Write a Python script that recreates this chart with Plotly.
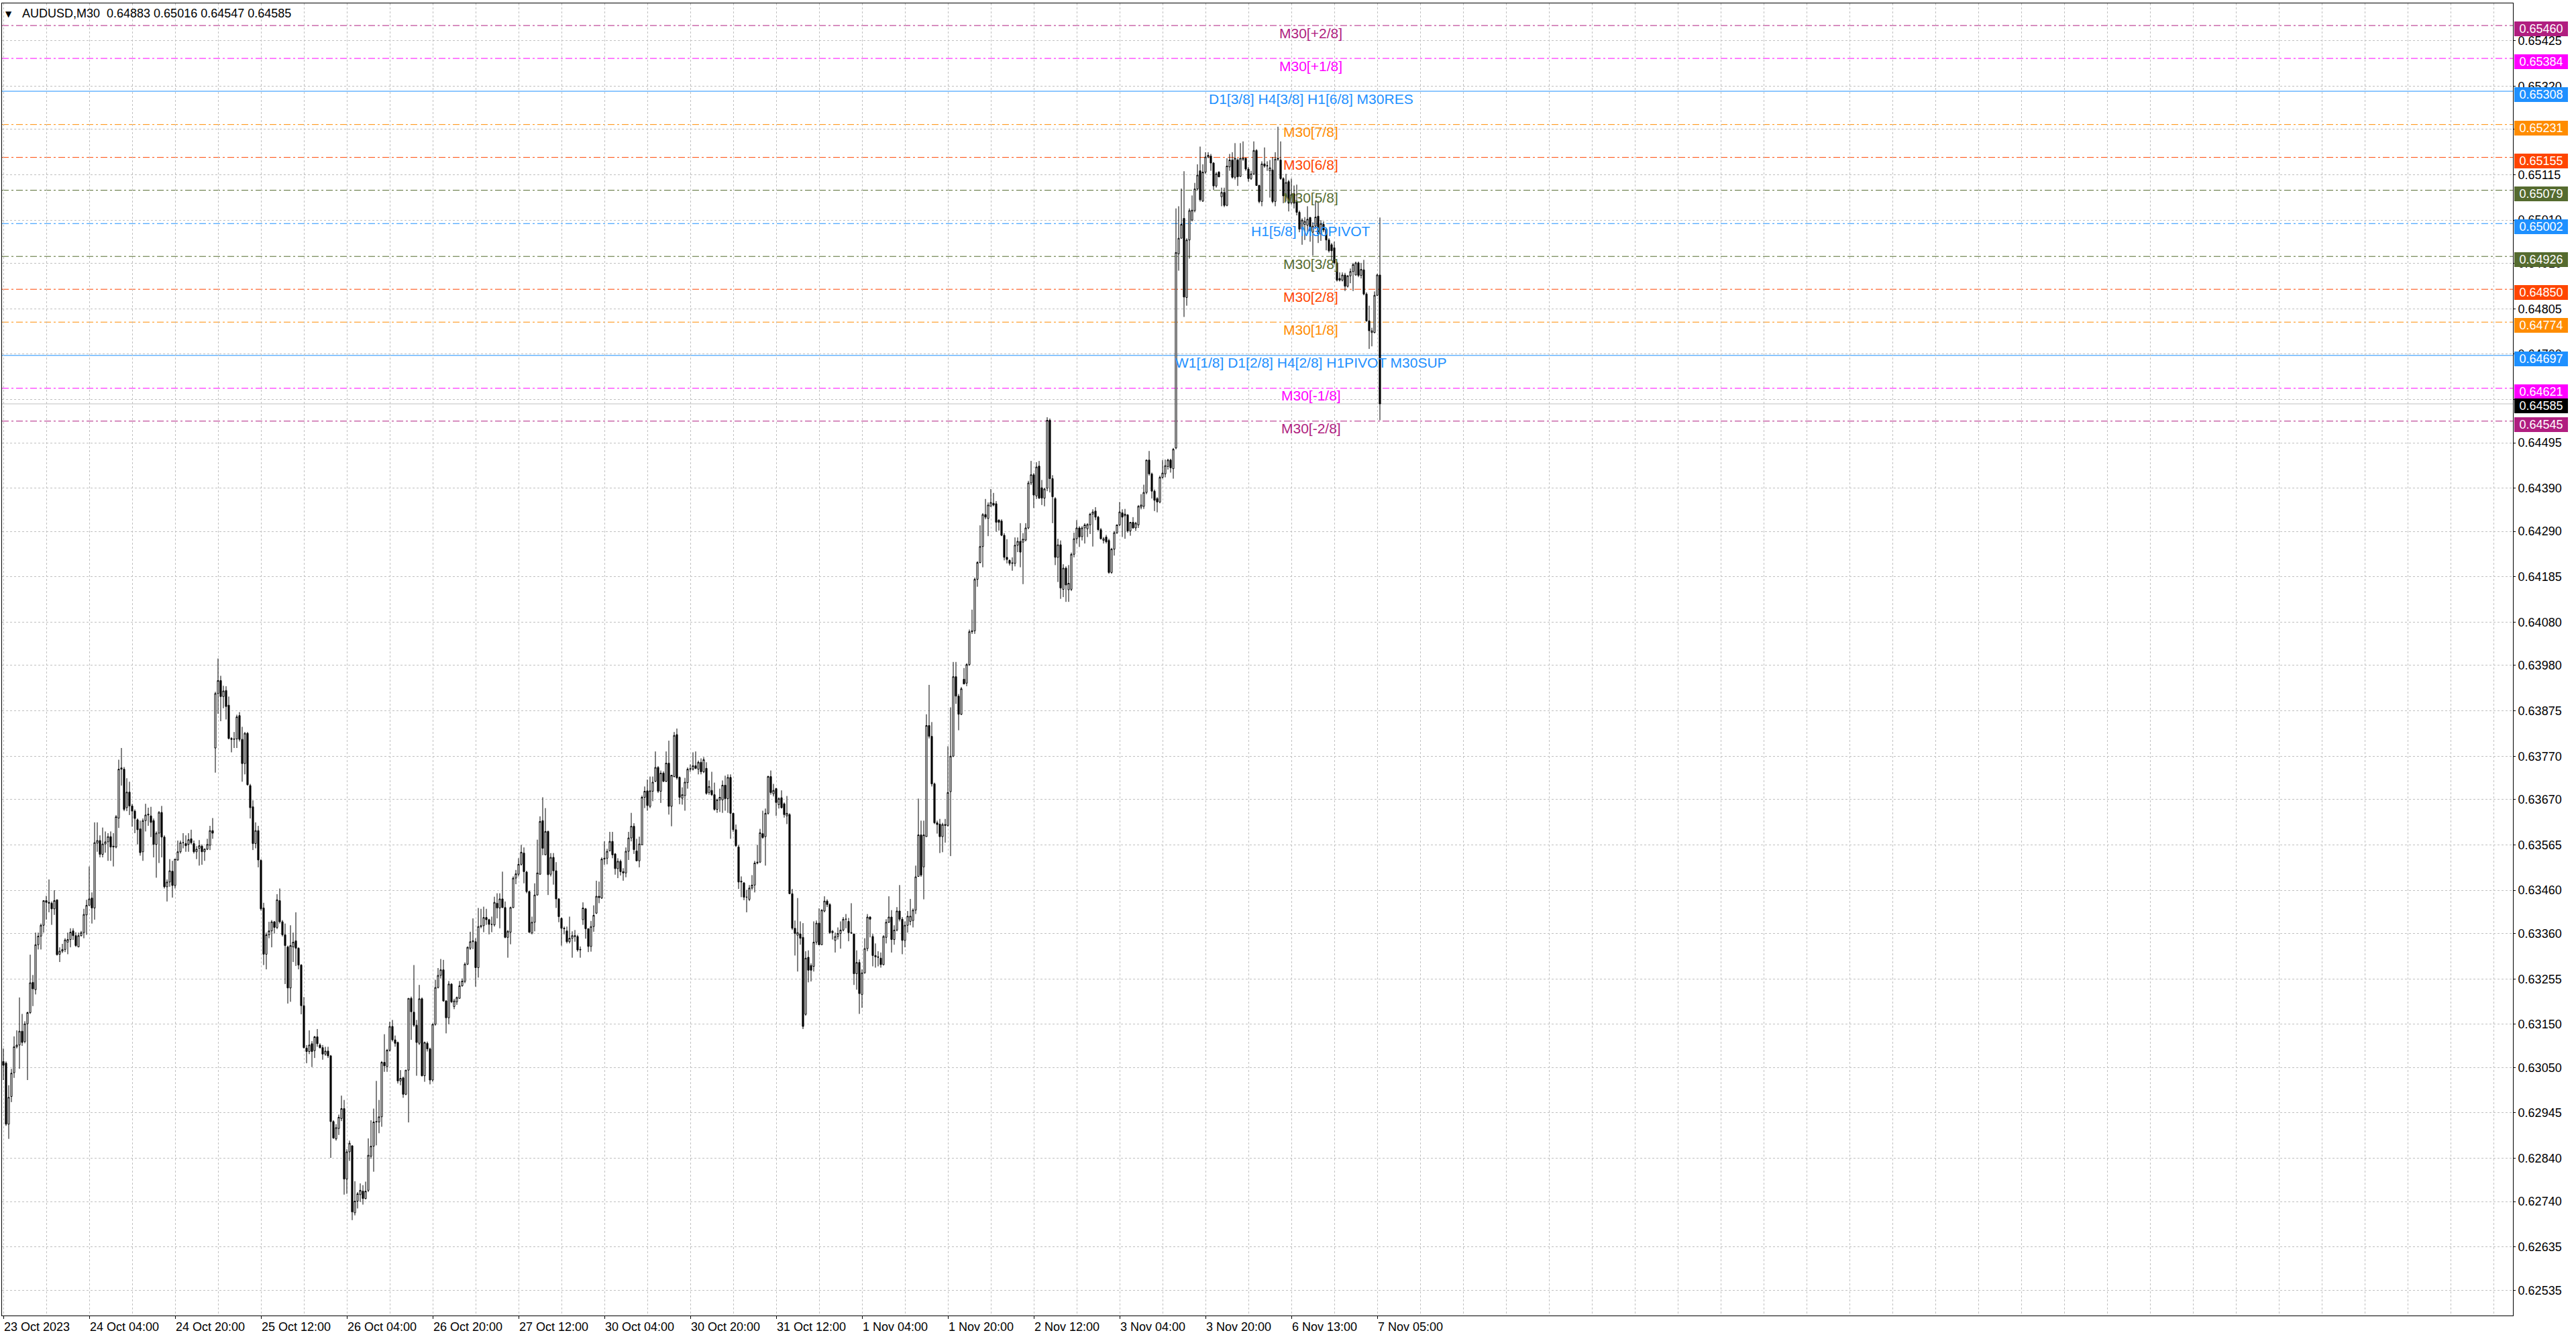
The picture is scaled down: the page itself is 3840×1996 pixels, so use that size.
import plotly.graph_objects as go

# ---------------- data (prices in points, 1 point = 0.00001) ----------------
open_pts = [
63064,63060,62919,62983,63038,63098,63102,63134,63110,63151,
63177,63247,63230,63334,63354,63379,63436,63432,63430,63417,
63438,63312,63319,63323,63340,63346,63366,63355,63329,63355,
63362,63403,63425,63442,63419,63569,63575,63543,63567,63572,
63584,63560,63560,63627,63740,63740,63651,63687,63655,63643,
63623,63602,63549,63621,63634,63632,63621,63566,63592,63640,
63583,63468,63479,63504,63471,63530,63549,63570,63568,63566,
63579,63568,63549,63557,63562,63549,63555,63564,63598,63789,
63915,63945,63908,63922,63888,63811,63809,63810,63864,63809,
63753,63823,63702,63653,63568,63598,63529,63419,63312,63357,
63366,63387,63374,63436,63387,63357,63329,63234,63329,63343,
63326,63287,63193,63095,63087,63105,63089,63121,63102,63096,
63081,63088,63077,62925,62885,62909,62932,62955,62792,62855,
62869,62714,62741,62756,62764,62747,62766,62845,62868,62924,
62924,62936,63062,63052,63090,63145,63114,63108,63019,63026,
62988,63044,63210,63178,63148,63106,63209,63031,63106,63093,
63021,63150,63235,63263,63276,63204,63165,63243,63191,63202,
63210,63239,63249,63289,63326,63341,63341,63281,63376,63378,
63397,63392,63381,63380,63430,63419,63440,63420,63351,63363,
63420,63488,63497,63520,63546,63502,63457,63361,63386,63449,
63497,63621,63542,63596,63497,63536,63505,63440,63395,63372,
63366,63341,63349,63355,63353,63322,63392,63417,63371,63330,
63376,63407,63446,63442,63532,63534,63551,63573,63544,63510,
63527,63503,63500,63550,63581,63608,63551,63528,63565,63675,
63690,63654,63689,63712,63744,63689,63731,63712,63754,63654,
63723,63820,63721,63673,63679,63709,63740,63740,63748,63740,
63756,63734,63742,63686,63691,63681,63647,63669,63669,63703,
63672,63721,63638,63600,63560,63479,63477,63444,63439,63465,
63472,63523,63525,63591,63584,63638,63723,63683,63695,63658,
63674,63660,63632,63635,63452,63372,63356,63359,63351,63173,
63305,63286,63284,63340,63384,63334,63412,63435,63427,63362,
63344,63353,63360,63368,63393,63388,63362,63359,63267,63293,
63219,63269,63325,63398,63353,63309,63306,63303,63288,63351,
63386,63398,63346,63368,63412,63393,63344,63379,63388,63390,
63414,63492,63588,63514,63584,63841,63816,63706,63616,63613,
63584,63612,63610,63688,63770,63954,63909,63867,63948,63939,
63982,64058,64060,64179,64218,64255,64329,64320,64348,64355,
64354,64316,64314,64281,64230,64223,64216,64216,64258,64267,
64265,64270,64298,64402,64421,64372,64441,64391,64367,64390,
64547,64412,64366,64230,64259,64156,64205,64155,64156,64237,
64273,64298,64278,64298,64296,64305,64330,64337,64323,64294,
64269,64277,64269,64195,64249,64287,64305,64333,64326,64328,
64291,64311,64298,64305,64346,64348,64380,64455,64423,64383,
64366,64358,64415,64423,64440,64455,64435,64483,64932,64968,
65014,64831,64964,65010,65032,65082,65124,65054,65121,65156,
65158,65142,65089,65121,65064,65074,65044,65133,65149,65109,
65149,65111,65153,65153,65128,65106,65117,65171,65090,65053,
65140,65135,65124,65126,65053,65153,65149,65106,65066,65099,
65050,65071,65053,65028,64989,65000,64998,65016,64982,64996,
65019,64978,65000,64989,64964,64953,64946,64911,64875,64871,
64883,64857,64881,64891,64883,64911,64882,64895,64839,64777,
64750,64750,64836,64883]

high_pts = [
63094,63064,63009,63047,63122,63136,63212,63174,63157,63179,
63311,63264,63362,63362,63383,63436,63447,63485,63434,63460,
63438,63328,63336,63349,63362,63372,63372,63363,63362,63366,
63417,63438,63515,63455,63617,63617,63587,63605,63596,63592,
63596,63592,63634,63762,63789,63745,63719,63711,63660,63647,
63626,63621,63626,63660,63651,63653,63626,63596,63643,63655,
63587,63485,63532,63528,63532,63575,63575,63592,63587,63592,
63600,63575,63562,63576,63566,63557,63579,63609,63627,63919,
63996,63956,63933,63932,63908,63814,63826,63866,63872,63838,
63826,63826,63706,63668,63617,63609,63532,63431,63362,63387,
63391,63389,63451,63464,63391,63383,63332,63379,63362,63409,
63328,63289,63213,63102,63136,63111,63123,63139,63106,63102,
63098,63098,63079,62928,62919,62941,62985,62975,62861,62881,
62870,62787,62762,62782,62778,62786,62886,62928,62955,63019,
62975,63065,63127,63093,63156,63160,63124,63110,63044,63029,
63044,63210,63214,63287,63160,63241,63212,63110,63110,63096,
63152,63253,63280,63301,63299,63206,63250,63245,63209,63214,
63250,63256,63293,63330,63364,63395,63349,63419,63417,63422,
63417,63394,63399,63445,63453,63453,63503,63434,63368,63422,
63492,63507,63534,63565,63559,63505,63459,63399,63476,63577,
63631,63675,63650,63598,63546,63546,63525,63442,63397,63376,
63376,63399,63365,63368,63357,63330,63432,63419,63372,63389,
63425,63482,63480,63536,63573,63556,63595,63595,63546,63534,
63531,63511,63559,63595,63639,63615,63579,63584,63679,63700,
63716,63723,63723,63781,63747,63737,63735,63781,63806,63727,
63826,63834,63723,63698,63720,63744,63751,63779,63781,63760,
63765,63768,63756,63714,63734,63709,63672,63695,63714,63725,
63728,63728,63639,63612,63565,63492,63479,63461,63472,63495,
63528,63565,63602,63644,63649,63725,63737,63706,63697,63675,
63691,63663,63678,63638,63463,63390,63442,63388,63384,63319,
63321,63291,63388,63390,63418,63416,63446,63439,63430,63368,
63362,63374,63388,63398,63405,63396,63430,63359,63321,63300,
63277,63349,63405,63400,63359,63337,63319,63316,63356,63393,
63446,63414,63379,63421,63472,63398,63388,63412,63440,63418,
63517,63672,63621,63621,63867,63935,63849,63709,63621,63625,
63616,63625,63793,63883,63988,63988,63914,63930,63974,63985,
64063,64109,64183,64221,64304,64332,64365,64357,64388,64379,
64360,64318,64318,64286,64272,64225,64230,64276,64276,64309,
64286,64309,64407,64453,64425,64450,64453,64409,64391,64554,
64551,64420,64369,64273,64269,64214,64209,64212,64241,64287,
64316,64302,64302,64309,64309,64333,64341,64346,64326,64298,
64277,64282,64273,64252,64291,64306,64358,64341,64342,64330,
64312,64323,64312,64351,64376,64398,64456,64476,64426,64387,
64369,64419,64455,64456,64458,64458,64483,65037,65042,65083,
65123,64968,65037,65067,65096,65139,65180,65139,65167,65167,
65163,65144,65121,65123,65085,65085,65153,65163,65167,65188,
65153,65188,65192,65154,65133,65124,65192,65174,65092,65146,
65178,65146,65149,65156,65167,65226,65192,65109,65117,65103,
65106,65090,65092,65032,65014,65017,65042,65017,65005,65054,
65053,65010,65007,64992,64968,64957,64960,64914,64889,64889,
64888,64883,64898,64911,64914,64914,64911,64918,64843,64812,
64761,64845,64886,65016]

low_pts = [
63021,62915,62885,62970,63026,63094,63047,63100,63106,63021,
63174,63192,63219,63323,63323,63362,63392,63409,63380,63403,
63309,63294,63315,63317,63312,63328,63345,63329,63328,63353,
63349,63357,63425,63383,63392,63549,63536,63536,63547,63528,
63528,63515,63557,63604,63702,63643,63643,63634,63607,63592,
63566,63540,63528,63596,63609,63583,63536,63489,63523,63536,
63464,63434,63468,63443,63464,63528,63545,63557,63549,63549,
63566,63545,63532,63517,63519,63528,63553,63553,63579,63732,
63868,63851,63881,63855,63809,63779,63789,63789,63804,63711,
63728,63702,63626,63553,63557,63513,63413,63287,63277,63349,
63328,63360,63370,63383,63353,63243,63198,63202,63294,63285,
63277,63173,63094,63060,63081,63051,63072,63098,63094,63068,
63077,63072,62841,62885,62881,62894,62926,62756,62758,62834,
62697,62708,62724,62739,62733,62745,62762,62839,62809,62870,
62898,62913,63040,63040,63087,63110,63098,63013,63009,62980,
62986,62923,63114,63144,63031,63102,63029,63017,63087,63011,
63017,63147,63233,63256,63202,63129,63150,63199,63185,63195,
63209,63237,63245,63287,63322,63324,63237,63258,63372,63363,
63380,63358,63363,63376,63395,63372,63419,63349,63304,63335,
63419,63474,63492,63517,63476,63453,63361,63358,63365,63448,
63496,63541,63541,63449,63492,63473,63419,63386,63332,63358,
63337,63337,63304,63341,63318,63304,63380,63348,63317,63318,
63364,63405,63430,63440,63519,63520,63550,63534,63496,63488,
63494,63482,63490,63530,63573,63544,63527,63513,63564,63650,
63644,63650,63666,63710,63685,63662,63710,63710,63635,63608,
63721,63716,63659,63658,63644,63695,63734,63737,63740,63728,
63728,63731,63681,63681,63678,63644,63639,63641,63639,63644,
63639,63579,63595,63560,63463,63444,63437,63409,63435,63461,
63455,63520,63523,63579,63517,63635,63681,63677,63632,63649,
63649,63628,63613,63452,63368,63309,63272,63334,63139,63170,
63247,63249,63272,63334,63333,63333,63409,63421,63359,63346,
63316,63346,63325,63365,63372,63342,63359,63241,63230,63174,
63188,63267,63319,63351,63284,63281,63284,63281,63286,63337,
63384,63316,63334,63365,63388,63312,63328,63362,63379,63374,
63405,63491,63491,63439,63584,63811,63700,63613,63591,63546,
63548,63570,63607,63539,63768,63891,63830,63865,63937,63932,
63979,64053,64053,64162,64216,64207,64318,64279,64348,64348,
64289,64292,64279,64223,64216,64211,64199,64209,64242,64207,
64168,64267,64295,64397,64344,64365,64365,64351,64348,64383,
64380,64309,64212,64173,64134,64138,64127,64127,64152,64230,
64262,64254,64269,64262,64277,64284,64255,64316,64291,64271,
64262,64262,64192,64192,64234,64284,64302,64277,64273,64287,
64280,64296,64291,64298,64341,64342,64376,64419,64366,64337,
64334,64355,64412,64415,64433,64426,64412,64480,64893,64968,
64786,64812,64921,65007,65028,65078,65053,65052,65117,65153,
65124,65080,65085,65109,65042,65040,65042,65124,65106,65104,
65089,65110,65147,65124,65099,65103,65114,65089,65049,65042,
65131,65124,65062,65049,65042,65147,65103,65049,65053,65030,
65046,65037,65021,64982,64953,64964,64978,64960,64928,64989,
64957,64962,64982,64940,64935,64918,64907,64868,64868,64868,
64846,64854,64864,64846,64882,64878,64875,64836,64775,64712,
64718,64748,64834,64547]

close_pts = [
63055,62919,62981,63037,63098,63102,63134,63108,63151,63177,
63246,63232,63334,63354,63379,63436,63432,63430,63417,63436,
63311,63319,63323,63345,63346,63363,63355,63332,63355,63362,
63404,63425,63440,63419,63570,63575,63543,63567,63572,63584,
63560,63562,63630,63740,63743,63647,63687,63655,63643,63626,
63600,63547,63621,63634,63636,63617,63566,63592,63640,63583,
63468,63479,63505,63471,63532,63549,63570,63570,63563,63577,
63570,63549,63555,63563,63549,63555,63566,63598,63592,63915,
63945,63908,63921,63885,63811,63809,63810,63861,63809,63753,
63823,63704,63651,63568,63598,63530,63417,63312,63357,63366,
63387,63374,63438,63387,63357,63332,63234,63332,63340,63326,
63287,63193,63096,63087,63102,63087,63121,63105,63096,63081,
63088,63077,62925,62887,62911,62935,62955,62792,62855,62875,
62716,62741,62758,62766,62747,62764,62847,62868,62924,62925,
62936,63062,63054,63090,63145,63114,63106,63019,63025,62988,
63044,63210,63179,63148,63108,63209,63031,63108,63093,63021,
63150,63235,63263,63276,63204,63165,63243,63202,63204,63212,
63239,63250,63289,63328,63341,63343,63281,63376,63378,63397,
63392,63381,63381,63432,63419,63440,63420,63351,63365,63420,
63488,63498,63520,63548,63503,63457,63363,63386,63449,63500,
63619,63557,63596,63496,63536,63505,63440,63399,63372,63371,
63341,63349,63355,63353,63322,63323,63419,63371,63330,63376,
63402,63446,63443,63532,63534,63550,63573,63542,63510,63527,
63503,63500,63550,63581,63608,63554,63528,63567,63675,63689,
63656,63690,63710,63744,63689,63731,63712,63754,63654,63726,
63818,63720,63675,63681,63710,63740,63741,63748,63742,63756,
63734,63762,63684,63700,63681,63647,63669,63675,63703,63672,
63721,63638,63600,63563,63479,63481,63444,63444,63465,63472,
63523,63525,63593,63582,63638,63723,63686,63691,63663,63672,
63651,63635,63638,63452,63372,63360,63362,63349,63145,63303,
63275,63275,63340,63384,63334,63414,63435,63427,63362,63365,
63353,63360,63368,63393,63393,63362,63361,63267,63293,63221,
63269,63325,63398,63393,63309,63306,63305,63288,63353,63386,
63398,63346,63368,63412,63393,63344,63379,63400,63400,63414,
63491,63588,63495,63588,63841,63816,63706,63616,63612,63584,
63612,63610,63686,63770,63954,63909,63867,63926,63937,63982,
64058,64060,64179,64218,64255,64329,64323,64351,64357,64351,
64311,64311,64281,64230,64225,64216,64217,64258,64267,64242,
64272,64298,64402,64421,64374,64439,64367,64367,64388,64547,
64412,64370,64230,64259,64159,64205,64166,64170,64237,64273,
64298,64277,64298,64305,64306,64330,64335,64323,64294,64273,
64273,64266,64195,64249,64287,64305,64335,64323,64330,64291,
64311,64298,64309,64348,64351,64380,64455,64423,64383,64362,
64358,64415,64425,64442,64455,64437,64480,64935,64968,65000,
64832,64964,65032,65033,65082,65114,65057,65121,65156,65160,
65142,65089,65117,65110,65074,65044,65135,65149,65109,65153,
65110,65153,65151,65128,65106,65117,65171,65090,65053,65140,
65135,65136,65131,65053,65151,65151,65106,65066,65097,65049,
65069,65049,65028,64989,65010,65007,65012,64985,64996,65017,
64978,65002,64987,64964,64939,64939,64911,64871,64871,64883,
64857,64881,64891,64907,64911,64882,64896,64839,64777,64754,
64754,64836,64883,64585]

# time-axis labels (every 32 M30 bars)
xtick_bars = [0, 32, 64, 96, 128, 160, 192, 224, 256, 288, 320, 352, 384, 416, 448, 480, 512]
xtick_labels = ["23 Oct 2023", "24 Oct 04:00", "24 Oct 20:00", "25 Oct 12:00", "26 Oct 04:00",
                "26 Oct 20:00", "27 Oct 12:00", "30 Oct 04:00", "30 Oct 20:00", "31 Oct 12:00",
                "1 Nov 04:00", "1 Nov 20:00", "2 Nov 12:00", "3 Nov 04:00", "3 Nov 20:00",
                "6 Nov 13:00", "7 Nov 05:00"]

# price-axis grid values; labels hidden where the chart's price boxes cover them
ytick_vals = [0.65425, 0.65320, 0.65220, 0.65115, 0.65010, 0.64910, 0.64805, 0.64700, 0.64595,
              0.64495, 0.64390, 0.64290, 0.64185, 0.64080, 0.63980, 0.63875, 0.63770, 0.63670,
              0.63565, 0.63460, 0.63360, 0.63255, 0.63150, 0.63050, 0.62945, 0.62840, 0.62740,
              0.62635, 0.62535]
ytick_hidden = [0.65220, 0.64595]

# Murrey / pivot levels
level_prices = [0.65460, 0.65384, 0.65308, 0.65231, 0.65155, 0.65079, 0.65002,
                0.64926, 0.64850, 0.64774, 0.64697, 0.64621, 0.64545]
level_names = ["M30[+2/8]", "M30[+1/8]", "D1[3/8] H4[3/8] H1[6/8] M30RES", "M30[7/8]",
               "M30[6/8]", "M30[5/8]", "H1[5/8] M30PIVOT", "M30[3/8]", "M30[2/8]",
               "M30[1/8]", "W1[1/8] D1[2/8] H4[2/8] H1PIVOT M30SUP", "M30[-1/8]", "M30[-2/8]"]
level_colors = ["#B01E80", "#FF00FF", "#1E90FF", "#FF8C00", "#FF4500", "#556B2F", "#1E90FF",
                "#556B2F", "#FF4500", "#FF8C00", "#1E90FF", "#FF00FF", "#B01E80"]
level_solid = [False, False, True, False, False, False, False,
               False, False, False, True, False, False]

symbol = "AUDUSD,M30"
bid_price = 0.64585

assert len(open_pts) == len(high_pts) == len(low_pts) == len(close_pts) == 514

# ---------------- figure ----------------
PT = 1e-5
bars = list(range(len(close_pts)))
opens = [v * PT for v in open_pts]
highs = [v * PT for v in high_pts]
lows = [v * PT for v in low_pts]
closes = [v * PT for v in close_pts]

FONT = "Liberation Sans"
GRID = "#C0C0C0"

fig = go.Figure()
fig.add_trace(go.Candlestick(
    x=bars, open=opens, high=highs, low=lows, close=closes,
    increasing=dict(line=dict(color="#000000", width=1), fillcolor="#FFFFFF"),
    decreasing=dict(line=dict(color="#000000", width=1), fillcolor="#000000"),
    whiskerwidth=0, hoverinfo="skip", showlegend=False,
))

shapes = []
annotations = []
label_x = 487.25
for price, name, col, solid in zip(level_prices, level_names, level_colors, level_solid):
    shapes.append(dict(type="line", xref="paper", x0=0, x1=1, yref="y", y0=price, y1=price,
                       line=dict(color=col, width=1, dash="solid" if solid else "10px,4px,3px,4px"),
                       layer="between"))
    annotations.append(dict(x=label_x, y=price, xref="x", yref="y", text=name, showarrow=False,
                            xanchor="center", yanchor="middle", yshift=-11,
                            font=dict(family=FONT, size=21, color=col)))
    annotations.append(dict(x=1, y=price, xref="paper", yref="y", text=f"{price:.5f}",
                            showarrow=False, xanchor="left", yanchor="middle", xshift=2, yshift=-5,
                            bgcolor=col, borderpad=0, borderwidth=0, width=80, height=22,
                            font=dict(family=FONT, size=18, color="#FFFFFF")))

# bid line + label
shapes.append(dict(type="line", xref="paper", x0=0, x1=1, yref="y", y0=bid_price, y1=bid_price,
                   line=dict(color="#C0C0C0", width=1), layer="between"))
annotations.append(dict(x=1, y=bid_price, xref="paper", yref="y", text=f"{bid_price:.5f}",
                        showarrow=False, xanchor="left", yanchor="middle", xshift=2, yshift=-3,
                        bgcolor="#000000", borderpad=0, borderwidth=0, width=80, height=22,
                        font=dict(family=FONT, size=18, color="#FFFFFF")))

# header text
o, h, l, c = open_pts[-1] * PT, high_pts[-1] * PT, low_pts[-1] * PT, close_pts[-1] * PT
annotations.append(dict(x=0, y=1, xref="paper", yref="paper", xanchor="center", yanchor="middle",
                        xshift=10, yshift=-16, showarrow=False, text="\u25BC",
                        font=dict(family="DejaVu Sans", size=12, color="#000000")))
annotations.append(dict(x=0, y=1, xref="paper", yref="paper", xanchor="left", yanchor="middle",
                        xshift=28, yshift=-15, showarrow=False,
                        text=f"{symbol}\u00a0\u00a0{o:.5f} {h:.5f} {l:.5f} {c:.5f}",
                        font=dict(family=FONT, size=18, color="#000000")))

fig.update_layout(
    width=3840, height=1996,
    margin=dict(l=3, r=94, t=5, b=35, pad=0),
    paper_bgcolor="#FFFFFF", plot_bgcolor="#FFFFFF",
    showlegend=False, hovermode=False, boxgap=0.25,
    shapes=shapes, annotations=annotations,
    xaxis=dict(
        range=[-0.5, 935.25], tickmode="array", tickvals=xtick_bars, ticktext=xtick_labels,
        ticks="outside", ticklen=4, tickcolor="#000000", tickwidth=1,
        ticklabelposition="outside right",
        showgrid=True, gridcolor=GRID, griddash="3px,3px", gridwidth=1,
        minor=dict(tickmode="linear", tick0=0, dtick=16, showgrid=True, gridcolor=GRID,
                   griddash="3px,3px", gridwidth=1, ticks=""),
        showline=True, linecolor="#000000", linewidth=1, mirror=True,
        zeroline=False, rangeslider=dict(visible=False), fixedrange=True,
        tickfont=dict(family=FONT, size=18, color="#000000"),
    ),
    yaxis=dict(
        side="right", range=[0.624764, 0.655113], tickmode="array", tickvals=ytick_vals,
        ticktext=["" if v in ytick_hidden else f"{v:.5f}" for v in ytick_vals],
        ticks="outside", ticklen=3, tickcolor="#000000", tickwidth=1,
        showgrid=True, gridcolor=GRID, griddash="3px,3px", gridwidth=1,
        showline=True, linecolor="#000000", linewidth=1, mirror=True,
        zeroline=False, fixedrange=True,
        tickfont=dict(family=FONT, size=18, color="#000000"),
    ),
)

fig.write_html("out.html", config={"displayModeBar": False},
               post_script="document.body.style.margin='0';document.body.style.overflow='hidden';")
